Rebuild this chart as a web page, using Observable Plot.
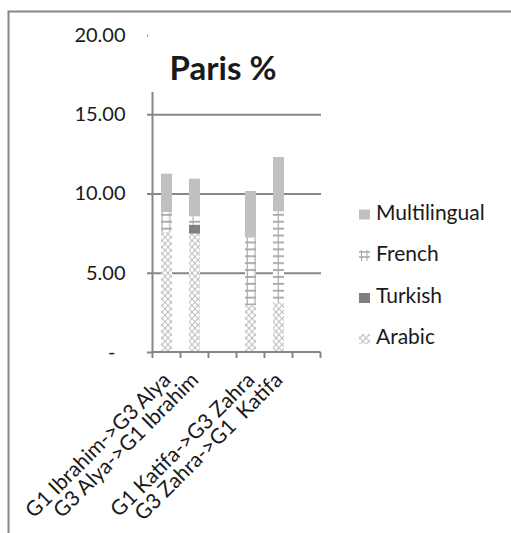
<!DOCTYPE html>
<html><head><meta charset="utf-8">
<script src="https://cdn.jsdelivr.net/npm/d3@7"></script>
<script src="https://cdn.jsdelivr.net/npm/@observablehq/plot@0.6"></script>
<style>
body{margin:0;background:#fff}
#chart{position:relative;width:511px;height:533px;overflow:hidden}
#chart svg text{white-space:pre}
</style>
</head><body><div id="chart"></div>
<script>
const categories = ["G1 Ibrahim->G3 Alya", "G3 Alya->G1 Ibrahim", " ", "G1 Katifa->G3 Zahra", "G3 Zahra->G1  Katifa", "  "];
const series = ["Arabic", "Turkish", "French", "Multilingual"];
const arabic = [7.57, 7.47, null, 2.95, 3.15, null];
const turkish = [0, 0.57, null, 0, 0, null];
const french = [1.26, 0.52, null, 4.27, 5.73, null];
const multilingual = [2.42, 2.38, null, 2.94, 3.42, null];
const yTicks = [5, 10, 15, 20];
const title = "Paris %";
const legendOrder = ["Multilingual", "French", "Turkish", "Arabic"];

const valuesBySeries = {Arabic: arabic, Turkish: turkish, French: french, Multilingual: multilingual};
const data = [];
categories.forEach((c, i) => {
  series.forEach(s => {
    const v = valuesBySeries[s][i];
    if (v != null) data.push({cat: c, series: s, value: v});
  });
});

const fills = {Arabic: "url(#pArabic)", Turkish: "#808080", French: "url(#pFrench)", Multilingual: "#c0c0c0"};
const gridColor = "#868686";
const textColor = "#1a1a1a";

const plot = Plot.plot({
  width: 511, height: 533,
  marginLeft: 153, marginRight: 190, marginTop: 35, marginBottom: 181,
  style: {fontFamily: "Lato", fontSize: "20px", color: textColor, background: "#fff"},
  x: {domain: categories, paddingInner: 0.6, paddingOuter: 0.3, axis: null},
  y: {domain: [0, 20], axis: null},
  color: {domain: series, range: series.map(s => fills[s])},
  marks: [
    Plot.ruleY(yTicks, {stroke: gridColor, strokeWidth: 2}),
    Plot.barY(data, {x: "cat", y: "value", fill: "series", order: series}),
    Plot.axisY({ticks: yTicks, tickFormat: d => d.toFixed(2), tickSize: 6, tickPadding: 22, stroke: gridColor, strokeWidth: 2, fill: textColor, label: null}),
    Plot.axisY({ticks: [0], tickFormat: () => "-", tickSize: 6, tickPadding: 32, stroke: gridColor, strokeWidth: 2, fill: textColor, label: null}),
    Plot.axisX({tickRotate: -45, tickSize: 0, tickPadding: 24, tickFormat: d => d, fill: textColor, fontSize: 21, label: null})
  ]
});

const svg = d3.select(plot);
const defs = svg.insert("defs", ":first-child");
const pa = defs.append("pattern").attr("id", "pArabic").attr("patternUnits", "userSpaceOnUse").attr("width", 6).attr("height", 6.5);
pa.append("rect").attr("width", 6).attr("height", 6.5).attr("fill", "#fff");
pa.append("path").attr("d", "M0,0L6,6.5M6,0L0,6.5").attr("stroke", "#bcbcbc").attr("stroke-width", 1).attr("fill", "none");
const pf = defs.append("pattern").attr("id", "pFrench").attr("patternUnits", "userSpaceOnUse").attr("width", 7.75).attr("height", 6.9);
pf.append("rect").attr("width", 7.75).attr("height", 6.9).attr("fill", "#fff");
pf.append("rect").attr("x", 0).attr("y", 0).attr("width", 7.75).attr("height", 1.8).attr("fill", "#a6a6a6");
pf.append("rect").attr("x", 6.5).attr("y", 0).attr("width", 1.1).attr("height", 6.9).attr("fill", "#a6a6a6");

// outer chart border
svg.insert("rect", "defs + *").attr("x", 8.5).attr("y", 11.5).attr("width", 700).attr("height", 700)
  .attr("fill", "none").attr("stroke", gridColor).attr("stroke-width", 2);

const xs = plot.scale("x"), ys = plot.scale("y");
const step = xs.step, bw = xs.bandwidth;
const edges = categories.map(c => xs.apply(c) - (step - bw) / 2);
edges.push(edges[edges.length - 1] + step);
const y0 = ys.apply(0);
const ax = svg.append("g").attr("stroke", gridColor).attr("stroke-width", 2);
ax.append("line").attr("x1", edges[0]).attr("x2", edges[0]).attr("y1", y0).attr("y2", ys.apply(20));
ax.append("line").attr("x1", edges[0]).attr("x2", edges[edges.length - 1]).attr("y1", y0).attr("y2", y0);
edges.forEach(e => ax.append("line").attr("x1", e).attr("x2", e).attr("y1", y0).attr("y2", y0 + 6));

// title box (overlaps plot area, as in the original)
svg.append("rect").attr("x", 148).attr("y", 22).attr("width", 182).attr("height", ys.apply(16.4) - 22).attr("fill", "#fff");
svg.append("text").attr("x", 223).attr("y", 80).attr("text-anchor", "middle")
  .attr("font-family", "Lato").attr("font-weight", "bold").attr("font-size", 33).attr("fill", textColor).text(title);

// legend
const lg = svg.append("g").attr("font-family", "Lato").attr("font-size", 21).attr("fill", textColor).attr("text-anchor", "start");
const baselines = [219.5, 261, 303, 344];
legendOrder.forEach((s, i) => {
  const b = baselines[i];
  if (s === "French") {
    const g = lg.append("g").attr("stroke", "#a6a6a6").attr("fill", "none");
    g.append("line").attr("x1", 361.5).attr("x2", 361.5).attr("y1", b - 11).attr("y2", b).attr("stroke-width", 1);
    g.append("line").attr("x1", 367).attr("x2", 367).attr("y1", b - 11).attr("y2", b).attr("stroke-width", 1);
    g.append("line").attr("x1", 359).attr("x2", 370).attr("y1", b - 9).attr("y2", b - 9).attr("stroke-width", 1.5);
    g.append("line").attr("x1", 359).attr("x2", 370).attr("y1", b - 4).attr("y2", b - 4).attr("stroke-width", 1.5);
  } else {
    lg.append("rect").attr("x", 359).attr("y", b - 10).attr("width", 11).attr("height", 10).attr("fill", fills[s]);
  }
  lg.append("text").attr("x", 376).attr("y", b).attr("text-anchor", "start").text(s);
});

document.getElementById("chart").appendChild(plot);
</script>
</body></html>
